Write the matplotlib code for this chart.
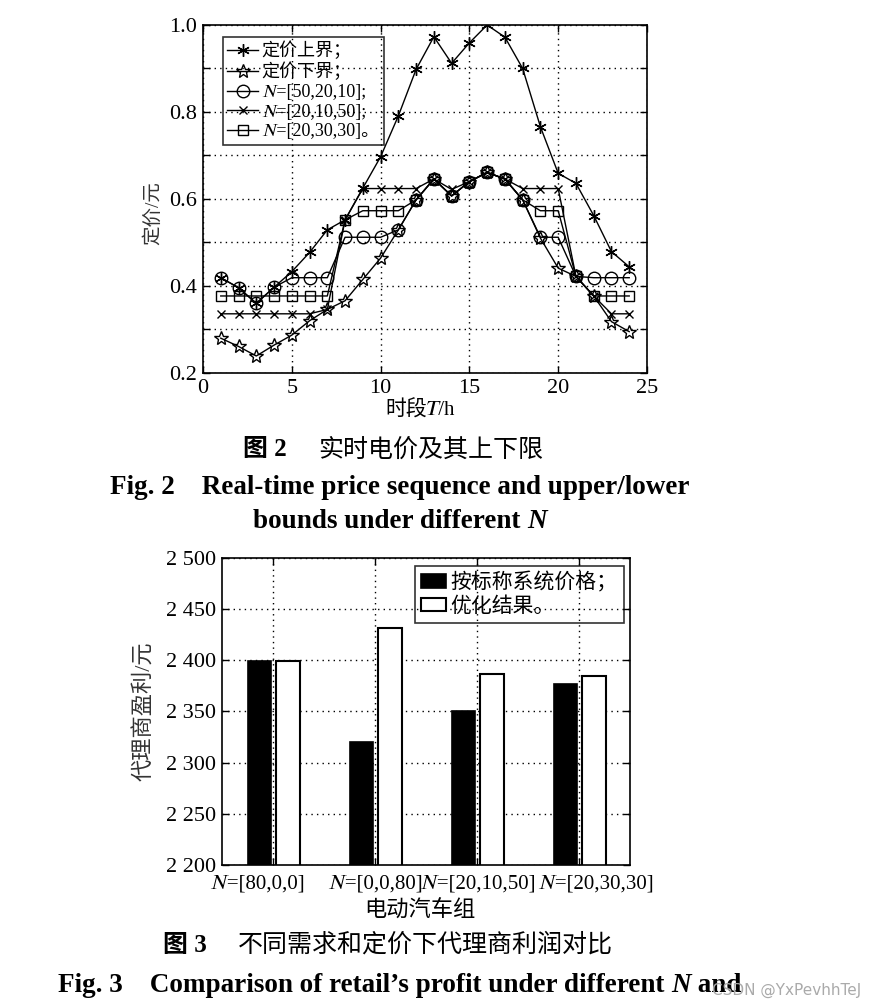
import matplotlib
matplotlib.use('Agg')
import matplotlib.pyplot as plt
import matplotlib.transforms as mtransforms

# STIXGeneral supplies the math-italic N, Noto the CJK glyphs
plt.rcParams['font.family'] = ['Liberation Serif', 'STIXGeneral', 'Noto Sans CJK SC']
plt.rcParams['axes.unicode_minus'] = False

N = '\U0001D441'     # italic N

# --- Fig. 2 data: real-time price per hour ---
hours = [1, 2, 3, 4, 5, 6, 7, 8, 9, 10, 11, 12,
         13, 14, 15, 16, 17, 18, 19, 20, 21, 22, 23, 24]
upper = [0.419, 0.396, 0.360, 0.397, 0.433, 0.477, 0.529, 0.552, 0.625, 0.697, 0.791, 0.898,
         0.973, 0.912, 0.959, 1.000, 0.972, 0.900, 0.766, 0.659, 0.636, 0.562, 0.479, 0.444]
lower = [0.280, 0.261, 0.239, 0.264, 0.287, 0.320, 0.346, 0.366, 0.415, 0.464, 0.529, 0.598,
         0.646, 0.607, 0.640, 0.661, 0.646, 0.598, 0.510, 0.441, 0.422, 0.377, 0.318, 0.295]
n_50_20_10 = [0.419, 0.396, 0.360, 0.397, 0.419, 0.419, 0.419, 0.512, 0.512, 0.512, 0.529, 0.598,
              0.646, 0.607, 0.640, 0.661, 0.646, 0.598, 0.512, 0.512, 0.422, 0.419, 0.419, 0.419]
n_20_10_50 = [0.336, 0.336, 0.336, 0.336, 0.336, 0.336, 0.346, 0.552, 0.624, 0.624, 0.624, 0.624,
              0.646, 0.622, 0.640, 0.661, 0.646, 0.624, 0.624, 0.624, 0.422, 0.377, 0.336, 0.336]
n_20_30_30 = [0.377, 0.377, 0.377, 0.377, 0.377, 0.377, 0.377, 0.552, 0.573, 0.573, 0.573, 0.598,
              0.646, 0.607, 0.640, 0.661, 0.646, 0.598, 0.573, 0.573, 0.422, 0.377, 0.377, 0.377]
legend2 = ['定价上界；', '定价下界；', N + '=[50,20,10];', N + '=[20,10,50];', N + '=[20,30,30]。']

# --- Fig. 3 data: retailer profit ---
groups = [N + '=[80,0,0]', N + '=[0,0,80]', N + '=[20,10,50]', N + '=[20,30,30]']
nominal = [2399, 2320, 2350, 2377]
optimized = [2399, 2432, 2387, 2385]
legend3 = ['按标称系统价格；', '优化结果。']

fig = plt.figure(figsize=(8.69, 10.08), dpi=100)
W, H = 869, 1008

def style_axes(ax):
    for s in ax.spines.values():
        s.set_linewidth(1.2)
    ax.tick_params(direction='in', length=5, width=1, top=True, right=True,
                   labelsize=16, pad=4)
    ax.grid(True, linestyle=(0, (1, 3)), linewidth=1.0, color='k')

# ---------- Fig. 2 ----------
ax1 = fig.add_axes([0.2336, 0.6300, 0.5109, 0.3452])
style_axes(ax1)
kw = dict(color='k', linewidth=1.0, fillstyle='none', markeredgewidth=1.0)
ax1.plot(hours, upper, marker=(6, 2, 0), markersize=9, label=legend2[0], **kw)
ax1.plot(hours, lower, marker='*', markersize=10, label=legend2[1], **kw)
ax1.plot(hours, n_50_20_10, marker='o', markersize=9, label=legend2[2], **kw)
ax1.plot(hours, n_20_10_50, marker='x', markersize=6, label=legend2[3], **kw)
ax1.plot(hours, n_20_30_30, marker='s', markersize=7.5, label=legend2[4], **kw)
ax1.set_xlim(0, 25)
ax1.set_ylim(0.2, 1.0)
ax1.set_xticks([0, 5, 10, 15, 20, 25])
yt = [0.2, 0.3, 0.4, 0.5, 0.6, 0.7, 0.8, 0.9, 1.0]
ax1.set_yticks(yt)
ax1.set_yticklabels(['0.2', '', '0.4', '', '0.6', '', '0.8', '', '1.0'])
ax1.set_xlabel('时段' + '\U0001D447' + '/h', fontsize=15)
ax1.xaxis.set_label_coords(0.49, -0.08)
ax1.set_ylabel('定价/元', fontsize=14, color='#333333')
ax1.yaxis.set_label_coords(-0.092, 0.46)
leg = ax1.legend(loc='upper left', bbox_to_anchor=(0.045, 0.9655), borderaxespad=0,
                 fontsize=13, handlelength=1.7, handletextpad=0.2, labelspacing=0.15,
                 borderpad=0.25, fancybox=False, frameon=True)
leg.get_frame().set_edgecolor('k')
leg.get_frame().set_linewidth(1.2)
leg.get_frame().set_facecolor('none')

# ---------- Fig. 3 ----------
ax2 = fig.add_axes([0.2555, 0.1419, 0.4695, 0.3046])
style_axes(ax2)
ax2.set_axisbelow(True)
pos = [1, 2, 3, 4]
ax2.bar([p - 0.135 for p in pos], nominal, width=0.23, color='k', edgecolor='k',
        linewidth=1.2, label=legend3[0])
ax2.bar([p + 0.145 for p in pos], optimized, width=0.23, color='white', edgecolor='k',
        linewidth=1.5, label=legend3[1])
ax2.set_xlim(0.5, 4.5)
ax2.set_ylim(2200, 2500)
ax2.set_yticks([2200, 2250, 2300, 2350, 2400, 2450, 2500])
ax2.set_yticklabels(['2 200', '2 250', '2 300', '2 350', '2 400', '2 450', '2 500'])
ax2.set_xticks(pos)
ax2.set_xticklabels(groups, fontsize=15)
ax2.tick_params(axis='x', pad=7)
offsets = [-16, 0, 0, 16]
for lab, dx in zip(ax2.get_xticklabels(), offsets):
    lab.set_transform(lab.get_transform() +
                      mtransforms.ScaledTranslation(dx / 100, 0, fig.dpi_scale_trans))
ax2.set_xlabel('电动汽车组', fontsize=16)
ax2.xaxis.set_label_coords(0.485, -0.115)
ax2.set_ylabel('代理商盈利/元', fontsize=16, color='#333333')
ax2.yaxis.set_label_coords(-0.164, 0.5)
leg2 = ax2.legend(loc='upper right', bbox_to_anchor=(0.985, 0.974), borderaxespad=0,
                  fontsize=15, handlelength=1.2, handleheight=0.6, handletextpad=0.2,
                  labelspacing=0.2, borderpad=0.3, fancybox=False, frameon=True)
leg2.get_frame().set_edgecolor('k')
leg2.get_frame().set_linewidth(1.2)
leg2.get_frame().set_facecolor('none')

# ---------- captions ----------
renderer = fig.canvas.get_renderer()

def caption_line(cx, y, pieces, size):
    # pieces: list of (text, style); laid out left to right, centred on cx (pixels)
    texts = [fig.text(0, 1 - y / H, s, fontsize=size, fontweight='bold', fontstyle=st,
                      family='Liberation Serif', va='center', ha='left')
             for s, st in pieces]
    widths = [t.get_window_extent(renderer).width for t in texts]
    x = cx - sum(widths) / 2
    for t, w in zip(texts, widths):
        t.set_x(x / W)
        x += w

fig.text(243 / W, 1 - 450 / H, '图 2', fontsize=18, fontweight='bold', va='center', ha='left')
fig.text(318 / W, 1 - 450 / H, '实时电价及其上下限', fontsize=18, va='center', ha='left')
caption_line(400, 488, [('Fig. 2    Real-time price sequence and upper/lower', 'normal')], 19.5)
caption_line(400, 521, [('bounds under different\u00a0', 'normal'), ('N', 'italic')], 19.5)
fig.text(163 / W, 1 - 945 / H, '图 3', fontsize=18, fontweight='bold', va='center', ha='left')
fig.text(238 / W, 1 - 945 / H, '不同需求和定价下代理商利润对比', fontsize=18, va='center', ha='left')
caption_line(400, 985, [('Fig. 3    Comparison of retail’s profit under different\u00a0', 'normal'),
                        ('N', 'italic'), ('\u00a0and', 'normal')], 19.5)
fig.text(787 / W, 1 - 990 / H, 'CSDN @YxPevhhTeJ', fontsize=11, color='#aaaaaa',
         family='DejaVu Sans', va='center', ha='center')

fig.savefig('out.png', dpi=100)
